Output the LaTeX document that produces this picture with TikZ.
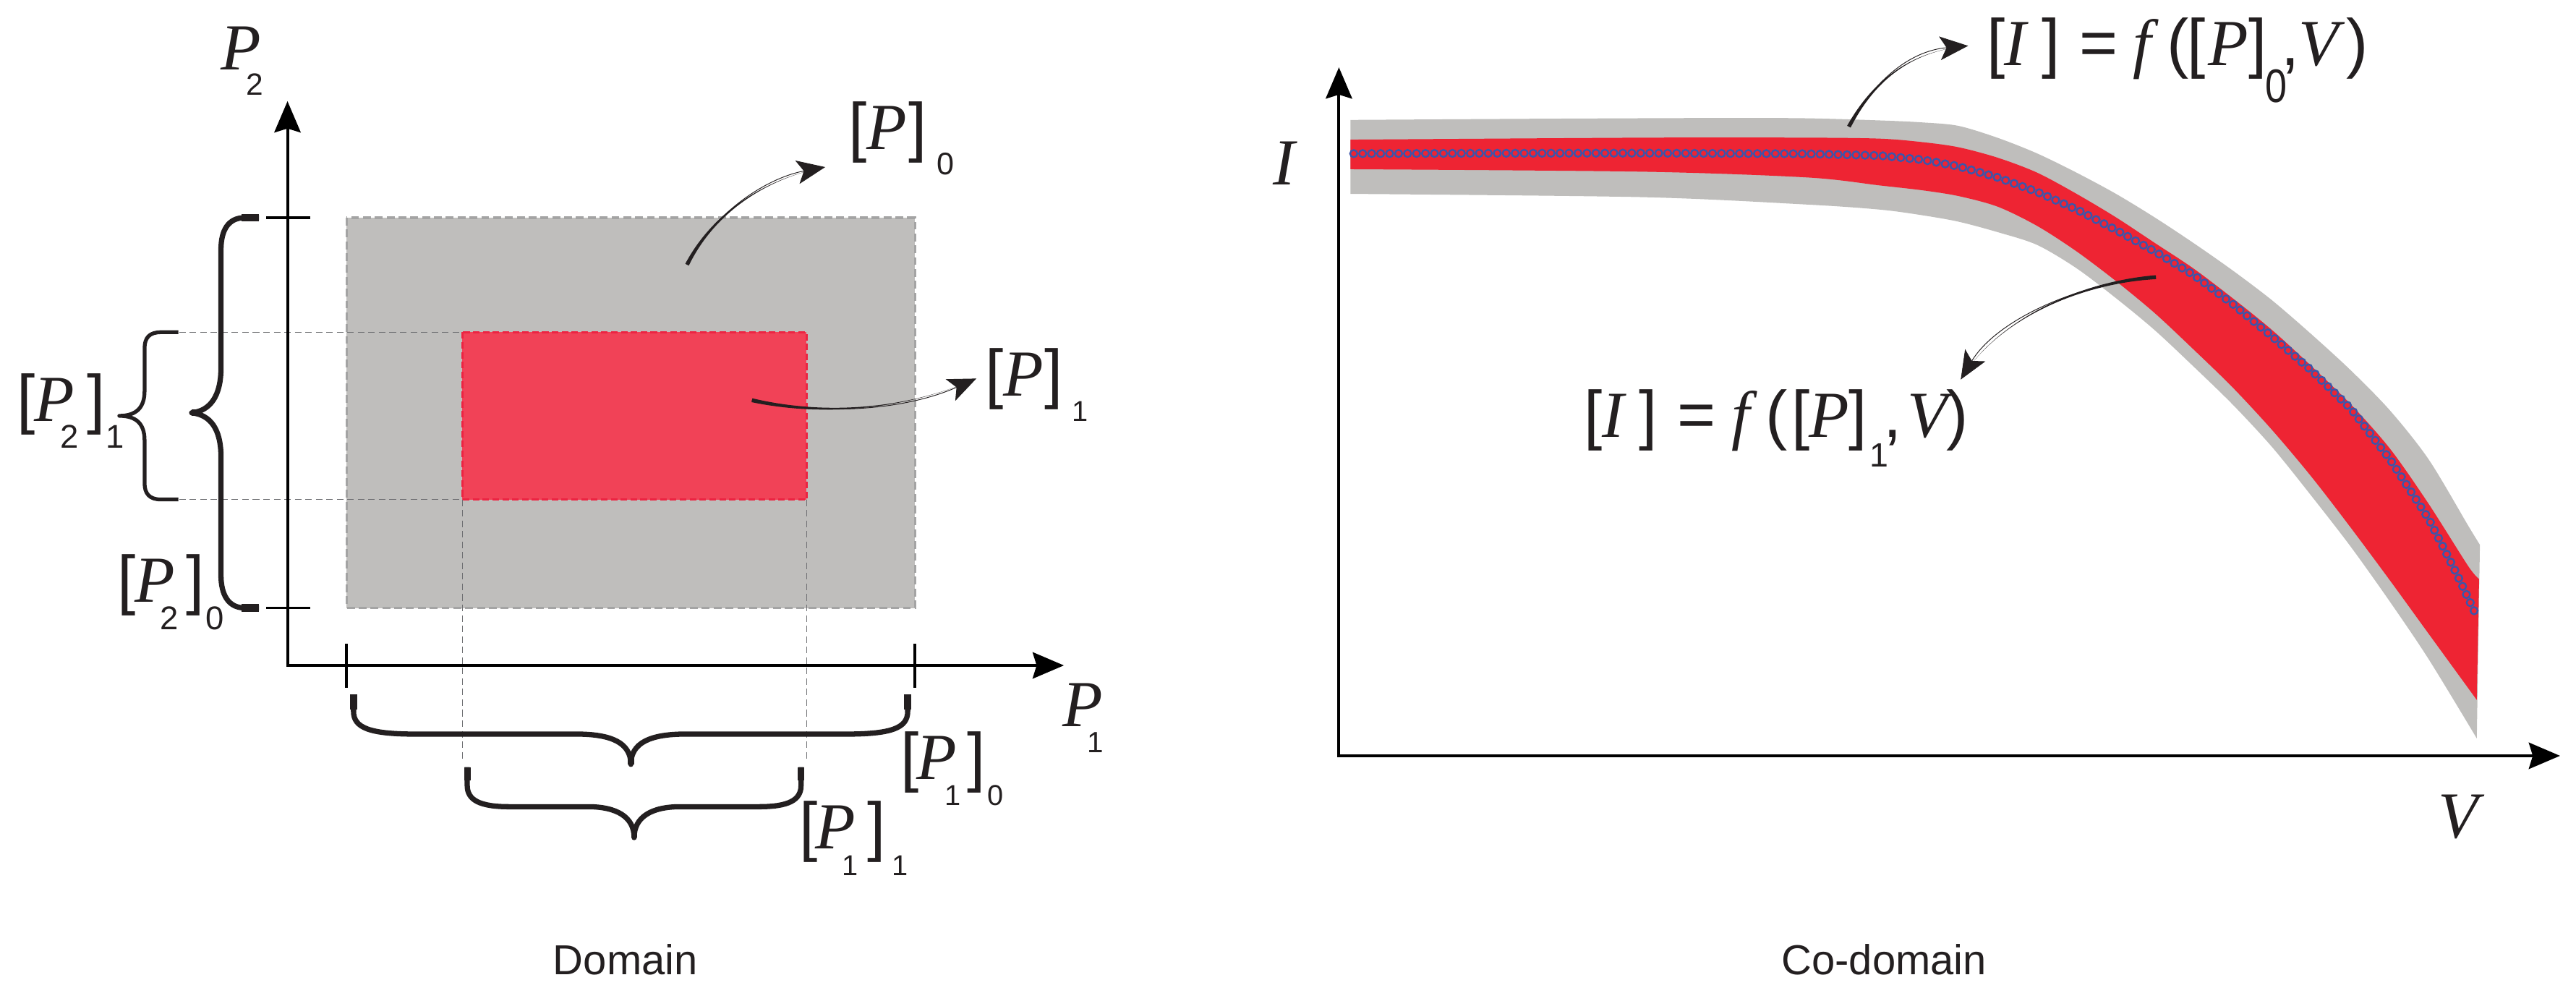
\documentclass[tikz,border=0pt]{standalone}
\usepackage{fontspec}
\usepackage{graphicx}
\usetikzlibrary{arrows.meta,calc}
\setmainfont{Liberation Sans}
\newfontfamily\lsans{Liberation Sans}
\newfontfamily\lserif{Liberation Serif}
\newlength\px \setlength\px{0.025cm}
\definecolor{inkc}{HTML}{231F20}
\definecolor{bandgray}{HTML}{BFBEBC}
\definecolor{bandred}{HTML}{EE2433}
\definecolor{rectgray}{HTML}{BFBEBC}
\definecolor{rectgrayb}{HTML}{A4A4A4}
\definecolor{rectred}{HTML}{F14257}
\definecolor{rectredb}{HTML}{EC2442}
\definecolor{guidec}{HTML}{6D6E71}
\definecolor{dotblue}{HTML}{3C55AA}
\newcommand\glyphat[3]{\makebox[0pt][l]{\hspace*{#1\px}\raisebox{#2\px}{#3}}}
\newcommand\Mi{\lserif\itshape\fontsize{28.45}{30}\selectfont}
\newcommand\Ms{\lsans\fontsize{28.45}{30}\selectfont}
\newcommand\Sz[1]{\lsans\fontsize{#1}{#1}\selectfont}
\newcommand\taperarr[4]{%
  \fill[inkc] ($(#1)!0.85pt!90:(#2)$) .. controls ($(#2)!0.4pt!90:(#3)$) and (#3) .. (#4) .. controls (#3) and ($(#2)!0.4pt!-90:(#3)$) .. ($(#1)!0.85pt!-90:(#2)$) -- cycle;
  \draw[inkc, line width=0.3pt, -{Stealth[length=0.43cm,width=0.36cm,inset=0.1cm]}] (#1) .. controls (#2) and (#3) .. (#4);}
\begin{document}
\begin{tikzpicture}[x=0.025cm, y=-0.025cm,
  axisline/.style={line width=0.045cm, black, line join=miter,
    {Stealth[length=0.475cm,width=0.4cm,inset=0.06cm]}-{Stealth[length=0.475cm,width=0.4cm,inset=0.06cm]}},
  tickline/.style={line width=0.042cm, black},
  bigbrace/.style={line width=0.08cm, inkc, line join=round},
  smallbrace/.style={line width=0.058cm, inkc, line join=round},
  braceend/.style={line width=0.115cm, inkc},
  guideline/.style={guidec, line width=0.5pt, dash pattern=on 0.1cm off 0.06cm},
  lab/.style={inner sep=0pt, outer sep=0pt, anchor=base west, text=inkc},
  caption/.style={inner sep=0pt, anchor=base, text=inkc, font=\lsans\fontsize{18.14}{20}\selectfont}]
\useasboundingbox (0,0) rectangle (1568,609);

% ---------------- LEFT: domain ----------------
\fill[rectgray] (211,132.5) rectangle (557,370);
\draw[rectgrayb, line width=1pt, dash pattern=on 0.12cm off 0.06cm] (211,132.5) rectangle (557,370);
\fill[rectred] (281.5,202.2) rectangle (491,304);
\draw[rectredb, line width=0.9pt, dash pattern=on 0.1cm off 0.05cm] (281.5,202.2) rectangle (491,304);

% guide lines
\draw[guideline] (109,202.2) -- (281.5,202.2);
\draw[guideline] (109,304) -- (281.5,304);
\draw[guideline] (281.5,304) -- (281.5,462);
\draw[guideline] (491,304) -- (491,462);

% axes
\coordinate (P2tip) at (175,61.6);
\coordinate (O1) at (175,405);
\coordinate (P1tip) at (647.6,405);
\draw[axisline] (P2tip) -- (O1) -- (P1tip);

% ticks
\draw[tickline] (162,132.5) -- (189,132.5);
\draw[tickline] (162,370) -- (189,370);
\draw[tickline] (210.8,391.8) -- (210.8,418.5);
\draw[tickline] (556.7,391.8) -- (556.7,418.5);

% big left brace
\draw[bigbrace] (157.7,132.5) -- (149,132.5) .. controls (139,132.5) and (134.5,140) .. (134.5,152) -- (134.5,224)
  .. controls (134.5,241) and (128,250) .. (116.7,251.25) .. controls (128,252.5) and (134.5,261) .. (134.5,278)
  -- (134.5,350) .. controls (134.5,362) and (139,370) .. (149,370) -- (157.7,370);
\draw[braceend] (147,132.5) -- (157.7,132.5);
\draw[braceend] (147,370) -- (157.7,370);
\draw[line width=0.1cm, inkc] (116.7,251.25) -- (123,251.25);

% small left brace
\draw[smallbrace] (108.6,202.2) -- (98,202.2) .. controls (91,202.2) and (88,205.5) .. (88,212) -- (88,238)
  .. controls (88,248) and (83,253.1) .. (72.6,253.1) .. controls (83,253.1) and (88,258) .. (88,268)
  -- (88,294) .. controls (88,300.5) and (91,304) .. (98,304) -- (108.6,304);

% big bottom brace
\draw[bigbrace] (215.2,422.6) -- (215.2,433) .. controls (215.2,443) and (225,446.8) .. (253,446.8) -- (351,446.8)
  .. controls (372,446.8) and (384,452) .. (384,465.2) .. controls (384,452) and (396,446.8) .. (417,446.8)
  -- (515,446.8) .. controls (543,446.8) and (552.5,443) .. (552.5,433) -- (552.5,422.6);
\draw[braceend] (215.2,422.6) -- (215.2,432);
\draw[braceend] (552.5,422.6) -- (552.5,432);
\draw[line width=0.1cm, inkc] (384,458) -- (384,465.2);

% small bottom brace
\draw[bigbrace] (284.4,466.9) -- (284.4,478) .. controls (284.4,487) and (292,491) .. (310,491) -- (358,491)
  .. controls (375,491) and (386,497) .. (386,509.8) .. controls (386,497) and (397,491) .. (414,491)
  -- (462,491) .. controls (480,491) and (487.6,487) .. (487.6,478) -- (487.6,466.9);
\draw[line width=0.1cm, inkc] (284.4,466.9) -- (284.4,475);
\draw[line width=0.1cm, inkc] (487.6,466.9) -- (487.6,475);
\draw[line width=0.09cm, inkc] (386,503) -- (386,509.8);

% label arrows (left)
\coordinate (a0s) at (418.2,161.1);
\coordinate (a0c1) at (435,128);
\coordinate (a0c2) at (468,108);
\coordinate (a0e) at (502.3,101.7);
\taperarr{a0s}{a0c1}{a0c2}{a0e}
\coordinate (a1s) at (457.7,243.6);
\coordinate (a1c1) at (500,253);
\coordinate (a1c2) at (550,250);
\coordinate (a1e) at (594.3,230.4);
\taperarr{a1s}{a1c1}{a1c2}{a1e}

% labels (left)
\node[lab] (lP2axis) at (134.7,42.3) {\glyphat{0}{0}{\Mi P}\glyphat{15.2}{-15.4}{\Sz{13.3}2}\hspace*{26\px}};
\node[lab] (lP1axis) at (647,442.4) {\glyphat{0}{0}{\Mi P}\glyphat{15}{-15.6}{\Sz{12.66}1}\hspace*{26\px}};
\node[lab] (lP0) at (516.5,91) {\glyphat{0}{0}{\Ms[}\glyphat{11}{0}{\Mi P}\glyphat{36.5}{0}{\Ms]}\glyphat{53.7}{-15.5}{\Sz{13.51}0}\hspace*{64\px}};
\node[lab] (lP1) at (599.7,241.2) {\glyphat{0}{0}{\Ms[}\glyphat{11.1}{0}{\Mi P}\glyphat{36.2}{0}{\Ms]}\glyphat{53}{-15.3}{\Sz{12.45}1}\hspace*{61\px}};
\node[lab] (lP21) at (10.5,256.5) {\glyphat{0}{0}{\Ms[}\glyphat{10.5}{0}{\Mi P}\glyphat{26.3}{-16}{\Sz{14.23}2}\glyphat{42.4}{0}{\Ms]}\glyphat{54.1}{-16}{\Sz{14.23}1}\hspace*{62\px}};
\node[lab] (lP20) at (71.5,366.3) {\glyphat{0}{0}{\Ms[}\glyphat{10.5}{0}{\Mi P}\glyphat{25.9}{-16.7}{\Sz{14.23}2}\glyphat{41.9}{0}{\Ms]}\glyphat{53.7}{-16.7}{\Sz{14.23}0}\hspace*{64\px}};
\node[lab] (lP10) at (548.1,474.4) {\glyphat{0}{0}{\Ms[}\glyphat{9.9}{0}{\Mi P}\glyphat{27}{-15.6}{\Sz{12.45}1}\glyphat{40.8}{0}{\Ms]}\glyphat{53.2}{-15.6}{\Sz{12.45}0}\hspace*{63\px}};
\node[lab] (lP11) at (486.8,516.6) {\glyphat{0}{0}{\Ms[}\glyphat{9.7}{0}{\Mi P}\glyphat{26}{-16.4}{\Sz{12.45}1}\glyphat{41.1}{0}{\Ms]}\glyphat{56.3}{-16.4}{\Sz{12.45}1}\hspace*{64\px}};
\node[caption] (domain) at (380.7,593) {Domain};

% ---------------- RIGHT: co-domain ----------------
\fill[bandgray] plot[smooth] coordinates {(822,73) (950,72.2) (1050,71.8) (1100,72) (1144.5,73.3) (1170,74.5) (1192,76.6) (1216,83.9) (1240,93.4) (1264,105.1) (1288,118) (1311.5,132.3) (1335,147.8) (1359,164.6) (1383,182.8) (1407,203.5) (1431,225.5) (1455,250.1) (1478.5,279.9) (1502.4,320) (1509.5,331.6)}
  -- plot[smooth] coordinates {(1507.6,449.4) (1478.5,401.5) (1455,366.6) (1431,332.9) (1407,301.9) (1383,272.1) (1359,246.2) (1335,222.9) (1311.5,200.9) (1288,181.5) (1264,163.3) (1240,149.1) (1216,141.3) (1192,134.9) (1170,131) (1144.5,127.6) (1100,124.5) (1000,120) (822,118)} -- cycle;
\fill[bandred] plot[smooth] coordinates {(822,85) (1000,83.8) (1100,83.8) (1144.5,84.4) (1170,86.5) (1192,89.6) (1216,96) (1240,105.1) (1264,118) (1288,132.3) (1311.5,147.8) (1335,163.3) (1359,181.5) (1383,200.9) (1407,222.9) (1431,246.2) (1455,273.4) (1478.5,307) (1502.4,344.6) (1509,352.4)}
  -- plot[smooth] coordinates {(1507.6,426) (1478.5,386) (1455,353.6) (1431,321.3) (1407,290.2) (1383,261.7) (1359,235.8) (1335,212.5) (1311.5,190.5) (1288,171.1) (1264,153) (1240,137.5) (1216,125.8) (1192,119.3) (1170,115.8) (1144.5,112.9) (1100,108) (1000,104.5) (822,103)} -- cycle;

% blue circles along the nominal curve
\gdef\carry{0}
\foreach \ax/\ay/\bx/\by in {824/93.5/900/93.3, 900/93.3/1000/93.2, 1000/93.2/1100/93.6, 1100/93.6/1144.5/94.7, 1144.5/94.7/1170/97.2, 1170/97.2/1192/101.2, 1192/101.2/1216/108, 1216/108/1240/116.8, 1240/116.8/1264/127.5, 1264/127.5/1288/140, 1288/140/1311.5/153, 1311.5/153/1335/167.2, 1335/167.2/1359/185, 1359/185/1383/204.8, 1383/204.8/1407/225.5, 1407/225.5/1431/248.8, 1431/248.8/1455/279.9, 1455/279.9/1478.5/316.1, 1478.5/316.1/1495/348.5, 1495/348.5/1506/371.8} {
  \pgfmathsetmacro\seglen{veclen(\bx-\ax,\by-\ay)}
  \pgfmathtruncatemacro\nn{floor((\seglen-\carry)/5.46)}
  \foreach \k in {0,...,\nn} {
    \pgfmathsetmacro\tt{(\carry+\k*5.46)/\seglen}
    \draw[dotblue, line width=0.75pt] ($(\ax,\ay)!\tt!(\bx,\by)$) circle[radius=0.055cm];
  }
  \pgfmathsetmacro\newcarry{\carry+(\nn+1)*5.46-\seglen}
  \xdef\carry{\newcarry}
}

% axes
\coordinate (Itip) at (815,41);
\coordinate (O2) at (815,460);
\coordinate (Vtip) at (1558.3,460);
\draw[axisline] (Itip) -- (O2) -- (Vtip);

% label arrows (right)
\coordinate (b0s) at (1125.4,77.1);
\coordinate (b0c1) at (1140,50);
\coordinate (b0c2) at (1162,31);
\coordinate (b0e) at (1198,27.9);
\taperarr{b0s}{b0c1}{b0c2}{b0e}
\coordinate (b1s) at (1312.3,168.7);
\coordinate (b1c1) at (1265,172);
\coordinate (b1c2) at (1215,195);
\coordinate (b1e) at (1193.5,231);
\taperarr{b1s}{b1c1}{b1c2}{b1e}

% labels (right)
\node[lab] (lI) at (775.1,112.3) {\Mi I};
\node[lab] (lV) at (1484,510) {\Mi V};
\node[lab] (f0) at (1209.5,40) {\glyphat{0}{0}{\Ms[}\glyphat{10.3}{0}{\Mi I}\glyphat{33.4}{0}{\Ms]}\glyphat{56.5}{0}{\Ms=}\glyphat{88.9}{0}{\Mi f}\glyphat{109.7}{0}{\Ms(}\glyphat{122}{0}{\Ms[}\glyphat{134.5}{0}{\Mi P}\glyphat{159.4}{0}{\Ms]}\glyphat{169.3}{-22.4}{\scalebox{0.83}[1]{\Sz{20.34}0}}\glyphat{179}{0}{\Ms,}\glyphat{189.5}{0}{\Mi V}\glyphat{218.6}{0}{\Ms)}\hspace*{232\px}};
\node[lab] (f1) at (964.4,266) {\glyphat{0}{0}{\Ms[}\glyphat{10.9}{0}{\Mi I}\glyphat{33.5}{0}{\Ms]}\glyphat{56.6}{0}{\Ms=}\glyphat{89.7}{0}{\Mi f}\glyphat{110.4}{0}{\Ms(}\glyphat{126.3}{0}{\Ms[}\glyphat{136.9}{0}{\Mi P}\glyphat{161.1}{0}{\Ms]}\glyphat{173.9}{-18}{\Sz{14.58}1}\glyphat{182.1}{0}{\Ms,}\glyphat{196.8}{0}{\Mi V}\glyphat{220.2}{0}{\Ms)}\hspace*{232\px}};
\node[caption] (codomain) at (1146.8,593) {Co-domain};
\end{tikzpicture}
\end{document}
